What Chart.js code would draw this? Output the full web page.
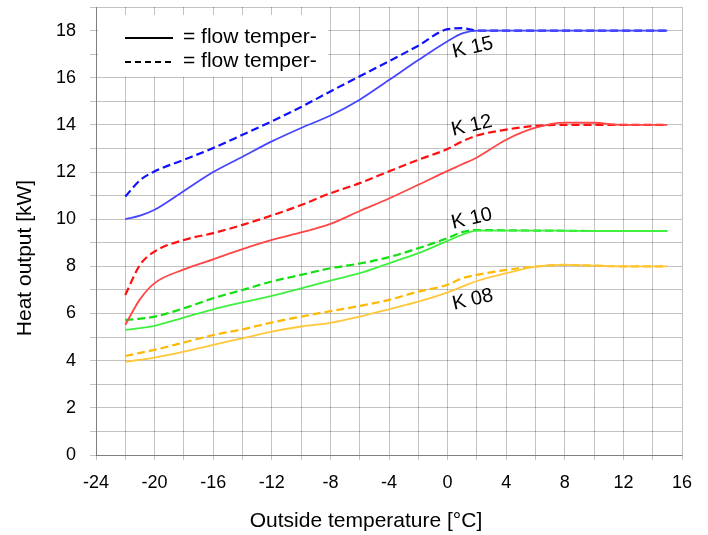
<!DOCTYPE html>
<html><head><meta charset="utf-8">
<script src="https://cdn.jsdelivr.net/npm/chart.js@4.4.0/dist/chart.umd.min.js"></script>
<style>html,body{margin:0;padding:0;background:#fff;overflow:hidden}</style>
</head><body>
<canvas id="c" width="708" height="535"></canvas>
<script>
// Outside temperature sample points [°C]
const temps = [-22, -21, -20, -18, -16, -14, -12, -10, -8, -6, -4, -2, 0, 1, 2, 4, 6, 8, 10, 12, 15];

// Heat output [kW]
const k15Solid  = [10.0, 10.15, 10.4, 11.2, 12.0, 12.65, 13.3, 13.87, 14.4, 15.07, 15.9, 16.75, 17.55, 17.88, 18.0, 18.0, 18.0, 18.0, 18.0, 18.0, 18.0];
const k15Dashed = [10.96, 11.65, 12.03, 12.52, 13.02, 13.58, 14.15, 14.76, 15.42, 16.06, 16.7, 17.36, 18.06, 18.1, 18.0, 18.0, 18.0, 18.0, 18.0, 18.0, 18.0];
const k12Solid  = [5.52, 6.6, 7.29, 7.87, 8.3, 8.73, 9.12, 9.44, 9.8, 10.35, 10.88, 11.46, 12.05, 12.33, 12.62, 13.37, 13.88, 14.1, 14.09, 14.0, 14.0];
const k12Dashed = [6.79, 8.06, 8.63, 9.12, 9.41, 9.76, 10.16, 10.6, 11.1, 11.53, 12.03, 12.52, 12.98, 13.3, 13.55, 13.8, 13.96, 14.0, 14.0, 14.0, 14.0];
const k10Solid  = [5.31, 5.38, 5.48, 5.83, 6.18, 6.47, 6.75, 7.07, 7.4, 7.71, 8.13, 8.56, 9.08, 9.34, 9.52, 9.52, 9.52, 9.51, 9.5, 9.5, 9.5];
const k10Dashed = [5.73, 5.78, 5.87, 6.22, 6.65, 7.0, 7.36, 7.64, 7.92, 8.12, 8.39, 8.77, 9.2, 9.45, 9.54, 9.53, 9.52, 9.51, 9.5, 9.5, 9.5];
const k08Solid  = [3.95, 4.04, 4.13, 4.38, 4.67, 4.95, 5.23, 5.45, 5.6, 5.87, 6.18, 6.5, 6.9, 7.14, 7.38, 7.71, 7.99, 8.06, 8.03, 8.0, 8.0];
const k08Dashed = [4.2, 4.33, 4.46, 4.77, 5.09, 5.33, 5.62, 5.87, 6.1, 6.32, 6.58, 6.93, 7.22, 7.5, 7.64, 7.85, 7.99, 8.06, 8.03, 8.0, 8.0];

// Tick labels
const xTickLabels = [-24, -20, -16, -12, -8, -4, 0, 4, 8, 12, 16];
const yTickLabels = [0, 2, 4, 6, 8, 10, 12, 14, 16, 18];

const curveNames = ['K 15', 'K 12', 'K 10', 'K 08'];
const legendTexts = ['= flow temper-', '= flow temper-'];
const xTitle = 'Outside temperature [°C]';
const yTitle = 'Heat output [kW]';

const FONT = '"Liberation Sans", Arial, sans-serif';

function pts(vals) { return temps.map((t, i) => ({x: t, y: vals[i]})); }

function ds(vals, color, dashed) {
  return {
    data: pts(vals),
    borderColor: color,
    borderWidth: dashed ? 2.2 : 1.8,
    borderDash: dashed ? [8, 4] : [],
    pointRadius: 0,
    cubicInterpolationMode: 'monotone',
    fill: false
  };
}

// anchor points of curve labels in data units (x °C, y kW)
const labelAnchors = [[1.72, 17.27], [1.65, 13.96], [1.65, 10.02], [1.72, 6.58]];

const overlay = {
  id: 'overlay',
  beforeDatasetsDraw(chart) {
    const ctx = chart.ctx;
    ctx.save();
    ctx.fillStyle = '#fff';
    ctx.fillRect(98, 15, 230, 62);
    ctx.strokeStyle = '#000';
    ctx.lineWidth = 2;
    ctx.beginPath(); ctx.moveTo(125, 38); ctx.lineTo(173, 38); ctx.stroke();
    ctx.setLineDash([6, 4]);
    ctx.beginPath(); ctx.moveTo(125, 62); ctx.lineTo(173, 62); ctx.stroke();
    ctx.setLineDash([]);
    ctx.fillStyle = '#000';
    ctx.font = '21px ' + FONT;
    ctx.textBaseline = 'alphabetic';
    ctx.textAlign = 'left';
    ctx.fillText(legendTexts[0], 183, 43);
    ctx.fillText(legendTexts[1], 183, 67);
    ctx.restore();
  },
  afterDatasetsDraw(chart) {
    const ctx = chart.ctx;
    const xs = chart.scales.x, ys = chart.scales.y;
    ctx.save();
    ctx.fillStyle = '#000';
    ctx.font = '20px ' + FONT;
    ctx.textAlign = 'center';
    ctx.textBaseline = 'middle';
    curveNames.forEach((n, i) => {
      const px = xs.getPixelForValue(labelAnchors[i][0]);
      const py = ys.getPixelForValue(labelAnchors[i][1]);
      ctx.save();
      ctx.translate(px, py);
      ctx.rotate(-13 * Math.PI / 180);
      ctx.fillText(n, 0, 0);
      ctx.restore();
    });
    ctx.font = '21px ' + FONT;
    ctx.fillText(xTitle, 366, 521);
    ctx.save();
    ctx.translate(25, 258);
    ctx.rotate(-Math.PI / 2);
    ctx.fillText(yTitle, 0, 0);
    ctx.restore();
    ctx.restore();
  }
};

const gridColor = 'rgba(0,0,0,0.24)';

new Chart(document.getElementById('c'), {
  type: 'line',
  data: {
    datasets: [
      ds(k15Solid, '#4646ff', false),
      ds(k15Dashed, '#1010ff', true),
      ds(k12Solid, '#ff4646', false),
      ds(k12Dashed, '#ff1010', true),
      ds(k10Solid, '#40f040', false),
      ds(k10Dashed, '#10e010', true),
      ds(k08Solid, '#ffc83c', false),
      ds(k08Dashed, '#ffb800', true)
    ]
  },
  options: {
    responsive: false,
    animation: false,
    layout: {padding: {left: 0, right: 26, top: 7, bottom: 0}},
    plugins: {legend: {display: false}, tooltip: {enabled: false}},
    scales: {
      x: {
        type: 'linear',
        min: -24, max: 16,
        afterFit(s) { s.height = 80; s.paddingLeft = 0; s.paddingRight = 0; },
        ticks: {
          stepSize: 2,
          autoSkip: false,
          maxRotation: 0,
          padding: 12,
          color: '#000',
          font: {family: FONT, size: 18},
          callback: v => xTickLabels.includes(v) ? String(v) : ''
        },
        grid: {color: gridColor, tickLength: 5, drawTicks: true},
        border: {color: 'rgba(0,0,0,0.35)'}
      },
      y: {
        min: 0, max: 19,
        afterFit(s) { s.width = 96; s.paddingTop = 0; s.paddingBottom = 0; },
        ticks: {
          stepSize: 1,
          autoSkip: false,
          padding: 14,
          color: '#000',
          font: {family: FONT, size: 18},
          callback: v => yTickLabels.includes(v) ? String(v) : ''
        },
        grid: {color: gridColor, tickLength: 6, drawTicks: true},
        border: {color: 'rgba(0,0,0,0.35)'}
      }
    }
  },
  plugins: [overlay]
});
</script>
</body></html>
